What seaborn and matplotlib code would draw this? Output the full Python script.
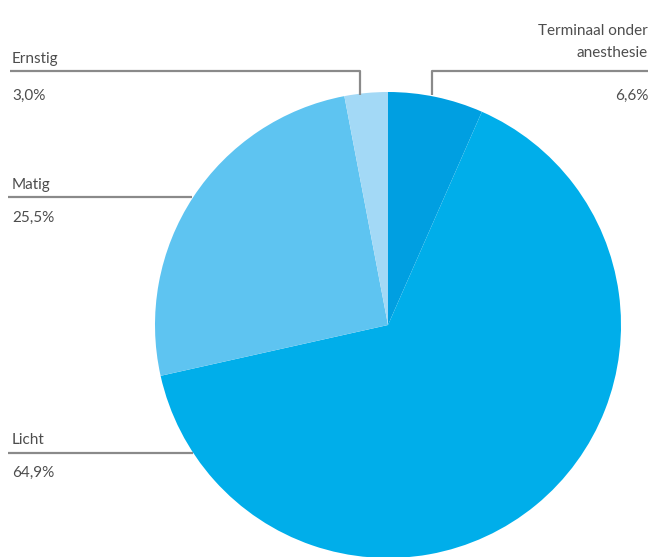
import matplotlib
matplotlib.use("Agg")
import matplotlib.pyplot as plt
import seaborn as sns

sns.set_theme(style="white")
plt.rcParams['font.family'] = ['Lato', 'DejaVu Sans']

# data, clockwise from 12 o'clock
labels = ["Terminaal onder\nanesthesie", "Licht", "Matig", "Ernstig"]
shares = [6.6, 64.9, 25.5, 3.0]
share_text = ["6,6%", "64,9%", "25,5%", "3,0%"]
colors = ["#009fe1", "#00aeea", "#5ec4f1", "#a3d9f6"]

fig = plt.figure(figsize=(6.53, 5.57), dpi=100)
ax = fig.add_axes([0, 0, 1, 1])

cx, cy, r = 388, 232, 233
ax.pie(shares, colors=colors, startangle=90, counterclock=False,
       center=(cx, cy), radius=r, frame=True,
       wedgeprops=dict(linewidth=0))
ax.set_xlim(0, 653)
ax.set_ylim(0, 557)
ax.set_aspect("equal")
ax.axis("off")

line_kw = dict(color="#8a8a8a", lw=1.6, solid_capstyle="butt")
txt_kw = dict(color="#4d4d4d", fontsize=11)

# Ernstig
ax.plot([10, 360, 360], [486, 486, 462], **line_kw)
ax.text(12, 491, labels[3], va="bottom", ha="left", **txt_kw)
ax.text(12, 468, share_text[3], va="top", ha="left", **txt_kw)

# Terminaal onder anesthesie
ax.plot([648, 432, 432], [486, 486, 462], **line_kw)
ax.text(648, 497, labels[0], va="bottom", ha="right", linespacing=1.75, **txt_kw)
ax.text(648, 468, share_text[0], va="top", ha="right", **txt_kw)

# Matig
ax.plot([8, 192], [360, 360], **line_kw)
ax.text(12, 365, labels[2], va="bottom", ha="left", **txt_kw)
ax.text(12, 346, share_text[2], va="top", ha="left", **txt_kw)

# Licht
ax.plot([8, 193], [104, 104], **line_kw)
ax.text(12, 110, labels[1], va="bottom", ha="left", **txt_kw)
ax.text(12, 91, share_text[1], va="top", ha="left", **txt_kw)

fig.savefig("out.png", dpi=100, facecolor="white")
